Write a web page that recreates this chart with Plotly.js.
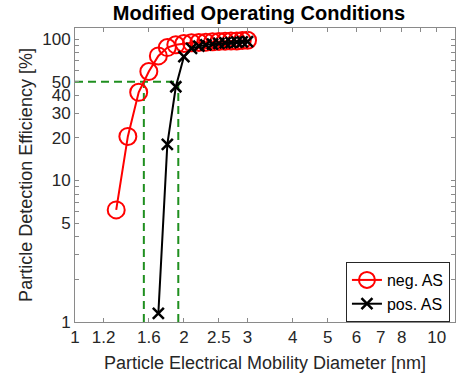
<!DOCTYPE html>
<html>
<head>
<meta charset="utf-8">
<script src="https://cdn.plot.ly/plotly-3.0.1.min.js"></script>
<style>html,body{margin:0;padding:0;background:#fff}#chart{width:456px;height:379px}</style>
</head>
<body>
<div id="chart"></div>
<script>
// Data
const negX = [1.3, 1.4, 1.5, 1.6, 1.7, 1.8, 1.9, 2.0, 2.1, 2.2, 2.3, 2.4, 2.5, 2.6, 2.7, 2.8, 2.9, 3.0];
const negY = [6.2, 20.5, 42, 59, 76, 87, 91, 93, 94, 94.5, 95, 95.5, 96, 96.5, 97, 97, 97.5, 98];
const posX = [1.7, 1.8, 1.9, 2.0, 2.1, 2.2, 2.3, 2.4, 2.5, 2.6, 2.7, 2.8, 2.9, 3.0];
const posY = [1.15, 18, 46, 75, 86, 89, 91, 92, 93, 94, 94.5, 95, 95.5, 96];
const d50Level = 50;
const d50Neg = 1.55;
const d50Pos = 1.93;
const xTickVals = [1, 1.2, 1.6, 2, 2.5, 3, 4, 5, 6, 7, 8, 9, 10];
const xTickText = ['1', '1.2', '1.6', '2', '2.5', '3', '4', '5', '6', '7', '8', '', '10'];
const yTickVals = [1, 2, 3, 4, 5, 6, 7, 8, 9, 10, 20, 30, 40, 50, 60, 70, 80, 90, 100];
const yTickText = ['1', '', '', '', '5', '', '', '', '', '10', '20', '30', '40', '50', '', '', '', '', '100'];

const green = '#1f8f1f';
const font = 'Liberation Sans, Arial, Helvetica, sans-serif';
const traces = [
  {x: [1, d50Pos], y: [d50Level, d50Level], mode: 'lines', line: {color: green, width: 2, dash: '8px,5px'}, showlegend: false, hoverinfo: 'skip'},
  {x: [d50Neg, d50Neg], y: [1, d50Level], mode: 'lines', line: {color: green, width: 2, dash: '8px,5px'}, showlegend: false, hoverinfo: 'skip'},
  {x: [d50Pos, d50Pos], y: [1, d50Level], mode: 'lines', line: {color: green, width: 2, dash: '8px,5px'}, showlegend: false, hoverinfo: 'skip'},
  {x: negX, y: negY, name: 'neg. AS', mode: 'lines+markers',
   line: {color: '#ff0000', width: 2},
   marker: {symbol: 'circle-open', size: 17, color: '#ff0000', line: {width: 2, color: '#ff0000'}}},
  {x: posX, y: posY, name: 'pos. AS', mode: 'lines+markers',
   line: {color: '#000000', width: 2},
   marker: {symbol: 'x-thin-open', size: 11, color: '#000000', line: {width: 2.5, color: '#000000'}}}
];
const axisCommon = {
  type: 'log', showgrid: false, zeroline: false, showline: true, mirror: 'ticks',
  linecolor: '#8a8a8a', linewidth: 1, ticks: 'inside', ticklen: 4, tickcolor: '#8a8a8a',
  tickfont: {family: font, size: 17, color: '#262626'}, tickmode: 'array'
};
const layout = {
  width: 456, height: 379,
  margin: {l: 75, r: 1, t: 28, b: 57},
  paper_bgcolor: '#fff', plot_bgcolor: '#fff',
  title: {text: '<b>Modified Operating Conditions</b>', font: {family: font, size: 20, color: '#000'},
          x: 0.484, xref: 'paper', xanchor: 'center', y: 0.966, yanchor: 'middle'},
  xaxis: Object.assign({}, axisCommon, {
    range: [0, 1.0506], tickvals: xTickVals, ticktext: xTickText,
    title: {text: 'Particle Electrical Mobility Diameter [nm]', font: {family: font, size: 18, color: '#262626'}, standoff: 9}
  }),
  yaxis: Object.assign({}, axisCommon, {
    range: [0, 2.078], tickvals: yTickVals, ticktext: yTickText,
    title: {text: 'Particle Detection Efficiency [%]', font: {family: font, size: 18, color: '#262626'}, standoff: 4}
  }),
  legend: {x: 0.713, y: 0.204, xanchor: 'left', yanchor: 'top', bgcolor: '#fff',
           bordercolor: '#262626', borderwidth: 1, font: {family: font, size: 16, color: '#000'},
           tracegroupgap: 0, itemwidth: 30},
  showlegend: true
};
Plotly.newPlot('chart', traces, layout, {staticPlot: true});
</script>
</body>
</html>
